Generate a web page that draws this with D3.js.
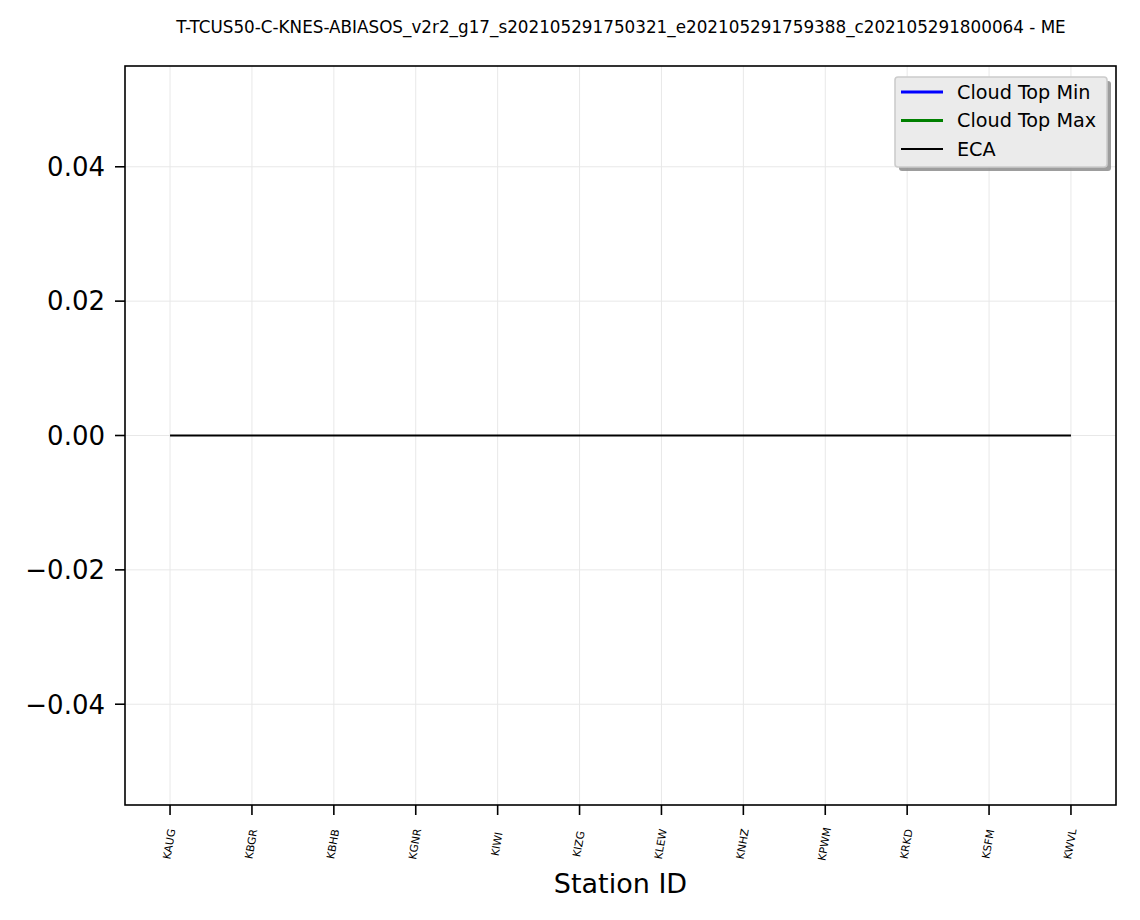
<!DOCTYPE html>
<html><head><meta charset="utf-8">
<script src="https://cdn.jsdelivr.net/npm/d3@7"></script>
<style>body{margin:0;background:#fff;} text{font-family:"DejaVu Sans",sans-serif;}</style>
</head><body>
<script>
const stations = ["KAUG","KBGR","KBHB","KGNR","KIWI","KIZG","KLEW","KNHZ","KPWM","KRKD","KSFM","KWVL"];
const cloudTopMin = [];
const cloudTopMax = [];
const eca = [0,0,0,0,0,0,0,0,0,0,0,0];
const yTicks = [-0.04,-0.02,0,0.02,0.04];
const titleText = "T-TCUS50-C-KNES-ABIASOS_v2r2_g17_s202105291750321_e202105291759388_c202105291800064 - ME";

const W=1140,H=920;
const L=125,R=1116,T=66,B=805;
const svg=d3.select("body").append("svg").attr("width",W).attr("height",H);
const n=stations.length;
const x=d3.scaleLinear().domain([-0.55,n-1+0.55]).range([L,R]);
const y=d3.scaleLinear().domain([-0.055,0.055]).range([B,T]);

// grid
svg.append("g").selectAll("line").data(stations).join("line")
 .attr("x1",(d,i)=>x(i)).attr("x2",(d,i)=>x(i)).attr("y1",T).attr("y2",B)
 .attr("stroke","#e8e8e8").attr("stroke-width",1);
svg.append("g").selectAll("line").data(yTicks).join("line")
 .attr("x1",L).attr("x2",R).attr("y1",d=>y(d)).attr("y2",d=>y(d))
 .attr("stroke","#e8e8e8").attr("stroke-width",1);

const line=d3.line().x((d,i)=>x(i)).y(d=>y(d));
if(cloudTopMin.length) svg.append("path").datum(cloudTopMin).attr("d",line).attr("fill","none").attr("stroke","blue").attr("stroke-width",2.5);
if(cloudTopMax.length) svg.append("path").datum(cloudTopMax).attr("d",line).attr("fill","none").attr("stroke","green").attr("stroke-width",2.5);
svg.append("path").datum(eca).attr("d",line).attr("fill","none").attr("stroke","black").attr("stroke-width",2);

// frame
svg.append("rect").attr("x",L).attr("y",T).attr("width",R-L).attr("height",B-T).attr("fill","none").attr("stroke","black").attr("stroke-width",1.6);

// y axis
const yAx=svg.append("g");
yTicks.forEach(v=>{
  yAx.append("line").attr("x1",L-10).attr("x2",L).attr("y1",y(v)).attr("y2",y(v)).attr("stroke","black").attr("stroke-width",1.6);
  yAx.append("text").attr("x",L-20).attr("y",y(v)).attr("dy","0.36em").attr("text-anchor","end")
   .attr("font-size",26).text(d3.format(".2f")(v).replace("-","\u2212"));
});
// x axis
const xAx=svg.append("g");
stations.forEach((s,i)=>{
  xAx.append("line").attr("x1",x(i)).attr("x2",x(i)).attr("y1",B).attr("y2",B+10).attr("stroke","black").attr("stroke-width",1.6);
  xAx.append("text").attr("transform",`translate(${x(i)-1},${B+39}) rotate(-80)`).attr("text-anchor","middle").attr("dy","0.36em")
   .attr("font-size",10.8).text(s);
});
svg.append("text").attr("x",(L+R)/2).attr("y",893).attr("text-anchor","middle").attr("font-size",27).text("Station ID");
svg.append("text").attr("x",621).attr("y",33).attr("text-anchor","middle").attr("font-size",16.8).text(titleText);

// legend
const lg=svg.append("g");
const lx=895,ly=77,lw=212,lh=90;
lg.append("rect").attr("x",lx+4).attr("y",ly+4).attr("width",lw).attr("height",lh).attr("rx",3).attr("fill","#8c8c8c").attr("opacity",0.85);
lg.append("rect").attr("x",lx).attr("y",ly).attr("width",lw).attr("height",lh).attr("rx",3).attr("fill","#ebebeb").attr("stroke","#cccccc").attr("stroke-width",1.6);
const items=[["Cloud Top Min","blue",3],["Cloud Top Max","green",3],["ECA","black",2]];
items.forEach((it,i)=>{
  const yy=ly+15+i*28.5;
  lg.append("line").attr("x1",lx+6).attr("x2",lx+48).attr("y1",yy).attr("y2",yy).attr("stroke",it[1]).attr("stroke-width",it[2]);
  lg.append("text").attr("x",lx+62).attr("y",yy).attr("dy","0.36em").attr("font-size",19.2).text(it[0]);
});
</script>
</body></html>
